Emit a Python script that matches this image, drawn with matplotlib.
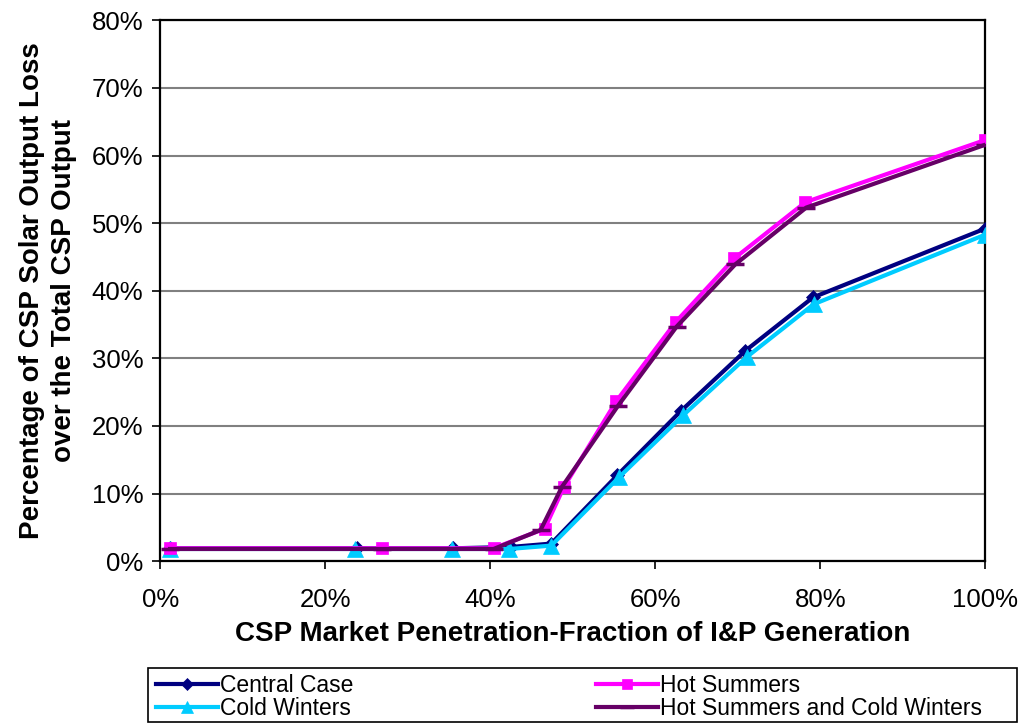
import matplotlib
matplotlib.use("Agg")
import matplotlib.pyplot as plt
from matplotlib.patches import Rectangle
from matplotlib.ticker import PercentFormatter

plt.rcParams["font.family"] = ["Liberation Sans", "DejaVu Sans"]

# ── Data (values in %) ────────────────────────────────────────────────────────
central_x = [1.2, 23.8, 35.5, 42.5, 47.4, 55.4, 63.1, 70.9, 79.1, 100]
central_y = [1.9, 1.9, 1.9, 2.1, 2.6, 12.7, 22.2, 31.1, 39.0, 49.2]

cold_x = [1.2, 23.6, 35.4, 42.3, 47.4, 55.6, 63.4, 71.1, 79.2, 100]
cold_y = [1.8, 1.8, 1.8, 1.8, 2.3, 12.4, 21.6, 30.2, 38.0, 48.3]

hot_x = [1.2, 26.9, 40.4, 46.6, 48.9, 55.3, 62.5, 69.6, 78.2, 100]
hot_y = [1.9, 1.9, 1.9, 4.8, 10.9, 23.7, 35.4, 44.8, 53.1, 62.3]

hotcold_x = [1.2, 26.9, 40.4, 46.1, 48.7, 55.5, 62.6, 69.7, 78.3, 100]
hotcold_y = [1.8, 1.8, 1.8, 4.6, 11.0, 23.0, 34.7, 43.9, 52.3, 61.6]

series = [
    ("Central Case", central_x, central_y, "#000080", "D", 7.5),
    ("Cold Winters", cold_x, cold_y, "#00CCFF", "^", 11),
    ("Hot Summers", hot_x, hot_y, "#FF00FF", "s", 8.5),
    ("Hot Summers and Cold Winters", hotcold_x, hotcold_y, "#660066", "_", 13),
]

# ── Figure ────────────────────────────────────────────────────────────────────
fig = plt.figure(figsize=(10.2, 7.25), dpi=100)
ax = fig.add_axes([0.157, 0.226, 0.809, 0.746])

handles = {}
for name, xs, ys, col, mk, ms in series:
    (ln,) = ax.plot(xs, ys, color=col, lw=3, marker=mk, markersize=ms,
                    markeredgewidth=2.5 if mk == "_" else 0.5,
                    markeredgecolor=col, label=name, zorder=3)
    handles[name] = ln

ax.set_xlim(0, 100)
ax.set_ylim(0, 80)
ax.set_xticks(range(0, 101, 20))
ax.set_yticks(range(0, 81, 10))
ax.xaxis.set_major_formatter(PercentFormatter(decimals=0))
ax.yaxis.set_major_formatter(PercentFormatter(decimals=0))
ax.tick_params(labelsize=18.5, length=6, width=1.2, direction="out")
ax.tick_params(axis="x", pad=13)
ax.tick_params(axis="y", pad=6)
ax.grid(axis="y", color="#808080", lw=1.5)
ax.set_axisbelow(True)
for sp in ax.spines.values():
    sp.set_linewidth(1.6)
    sp.set_color("black")

ax.set_xlabel("CSP Market Penetration-Fraction of I&P Generation",
              fontsize=20, fontweight="bold", labelpad=7)
ax.set_ylabel("Percentage of CSP Solar Output Loss\nover the Total CSP Output",
              fontsize=20, fontweight="bold", labelpad=11, linespacing=1.3)

# legend box (drawn separately so the columns can sit where the reference has them)
fig.patches.append(Rectangle((0.145, 0.004), 0.852, 0.075, transform=fig.transFigure,
                             fill=False, edgecolor="black", lw=1.2))
order = ["Central Case", "Cold Winters", "Hot Summers", "Hot Summers and Cold Winters"]
leg = fig.legend([handles[k] for k in order], order,
                 loc="center left", bbox_to_anchor=(0.153, 0.038),
                 ncol=2, fontsize=16.5, frameon=False,
                 borderpad=0, labelspacing=0.0, handlelength=2.7,
                 handletextpad=0.08, columnspacing=10.6, borderaxespad=0)
for h in leg.legend_handles:
    h.set_markersize(h.get_markersize() * 0.8)

fig.savefig("out.png", dpi=100)
